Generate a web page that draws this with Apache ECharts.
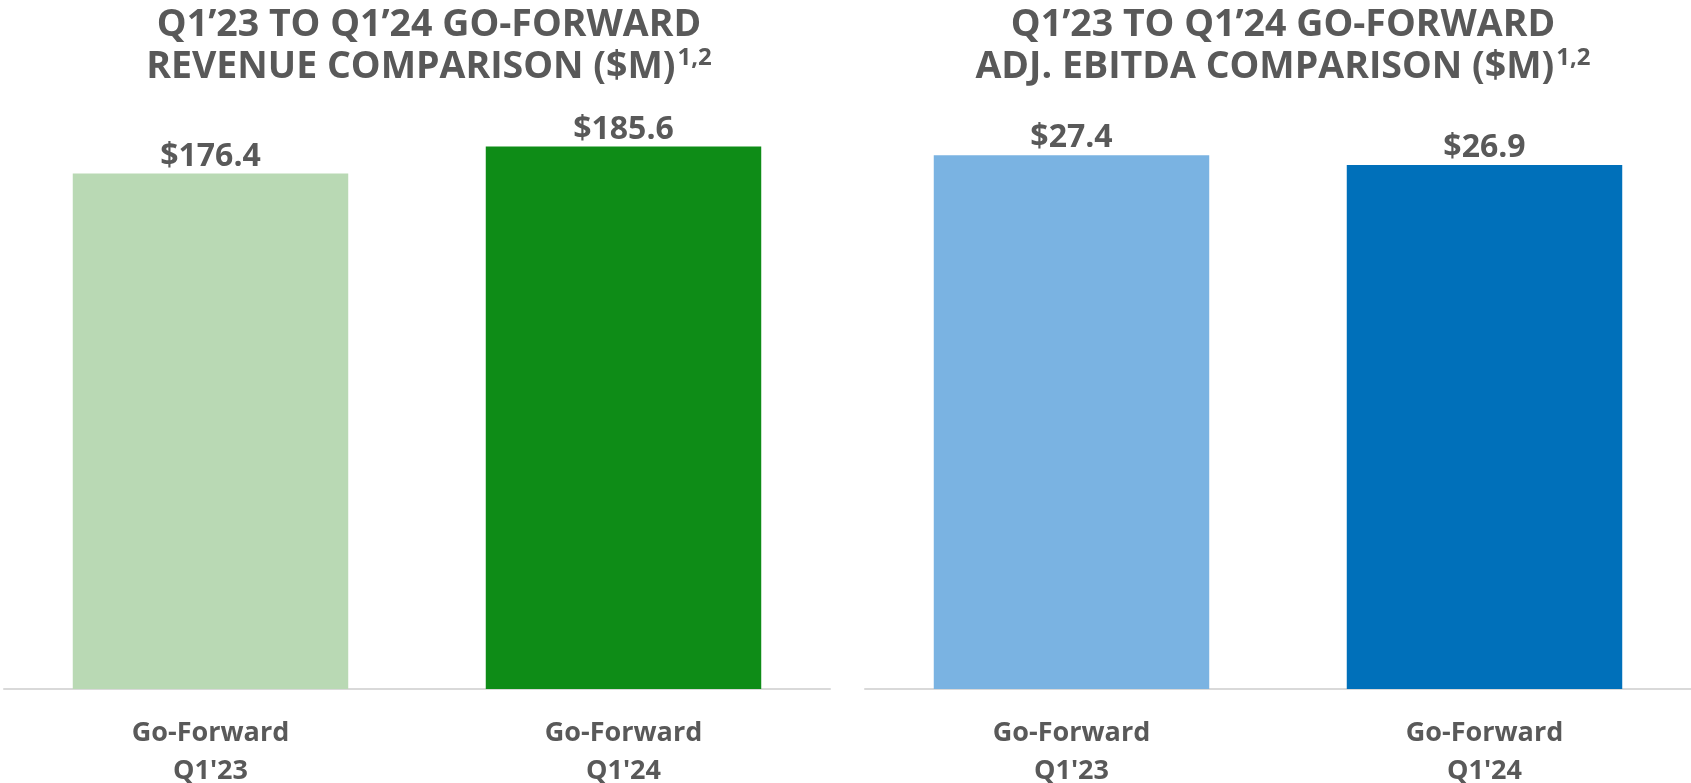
<!DOCTYPE html>
<html>
<head>
<meta charset="utf-8">
<script src="https://cdn.jsdelivr.net/npm/echarts@6/dist/echarts.min.js"></script>
<style>
html,body{margin:0;padding:0;background:#fff;}
#c{width:1691px;height:783px;}
</style>
</head>
<body>
<div id="c"></div>
<script>
const categories = ["Go-Forward\nQ1'23", "Go-Forward\nQ1'24"];
const revenueValues = [176.4, 185.6];
const ebitdaValues = [27.4, 26.9];
const revenueColors = ['#B9D9B4', '#0E8C17'];
const ebitdaColors = ['#7AB3E2', '#0070BA'];
const titleLeft = ['Q1\u201923 TO Q1\u201924 GO-FORWARD', 'REVENUE COMPARISON ($M)'];
const titleRight = ['Q1\u201923 TO Q1\u201924 GO-FORWARD', 'ADJ. EBITDA COMPARISON ($M)'];
const footnoteMark = '1,2';

const FONT = 'Open Sans';
const TXT = '#595959';

const chart = echarts.init(document.getElementById('c'), null, {renderer: 'canvas'});

function mkTitle(lines, centerX) {
  return {
    text: lines[0] + '\n' + lines[1] + '{sup|' + footnoteMark + '}',
    left: centerX,
    top: 0,
    textAlign: 'center',
    textStyle: {
      fontFamily: FONT, fontWeight: 'bold', fontSize: 37.5, color: TXT, lineHeight: 41.5,
      rich: {
        sup: {fontFamily: FONT, fontWeight: 'bold', fontSize: 24, color: TXT, lineHeight: 24, verticalAlign: 'top', padding: [0, 0, 0, 2]}
      }
    }
  };
}

function mkData(vals, cols) {
  return vals.map((v, i) => ({value: v, itemStyle: {color: cols[i]}}));
}

const xAxisCommon = {
  type: 'category',
  data: categories,
  axisTick: {show: false},
  axisLine: {show: true, lineStyle: {color: '#D9D9D9', width: 2}},
  axisLabel: {fontFamily: FONT, fontWeight: 'bold', fontSize: 27, color: TXT, lineHeight: 38, margin: 25, interval: 0}
};

const labelCommon = {
  show: true, position: 'top', distance: 1,
  fontFamily: FONT, fontWeight: 'bold', fontSize: 32, color: TXT,
  formatter: p => '$' + p.value.toFixed(1)
};

chart.setOption({
  animation: false,
  backgroundColor: '#fff',
  title: [mkTitle(titleLeft, 424), mkTitle(titleRight, 1278)],
  grid: [
    {left: 4, right: 861, top: 104.5, bottom: 94, containLabel: false, outerBoundsMode: 'none'},
    {left: 865, right: 0, top: 104.5, bottom: 94, containLabel: false, outerBoundsMode: 'none'}
  ],
  xAxis: [
    Object.assign({gridIndex: 0}, xAxisCommon),
    Object.assign({gridIndex: 1}, xAxisCommon)
  ],
  yAxis: [
    {gridIndex: 0, type: 'value', min: 0, max: 200, show: false, splitLine: {show: false}},
    {gridIndex: 1, type: 'value', min: 0, max: 30, show: false, splitLine: {show: false}}
  ],
  series: [
    {type: 'bar', xAxisIndex: 0, yAxisIndex: 0, data: mkData(revenueValues, revenueColors), barCategoryGap: '33.3%', label: labelCommon},
    {type: 'bar', xAxisIndex: 1, yAxisIndex: 1, data: mkData(ebitdaValues, ebitdaColors), barCategoryGap: '33.3%', label: labelCommon}
  ]
});
</script>
</body>
</html>
